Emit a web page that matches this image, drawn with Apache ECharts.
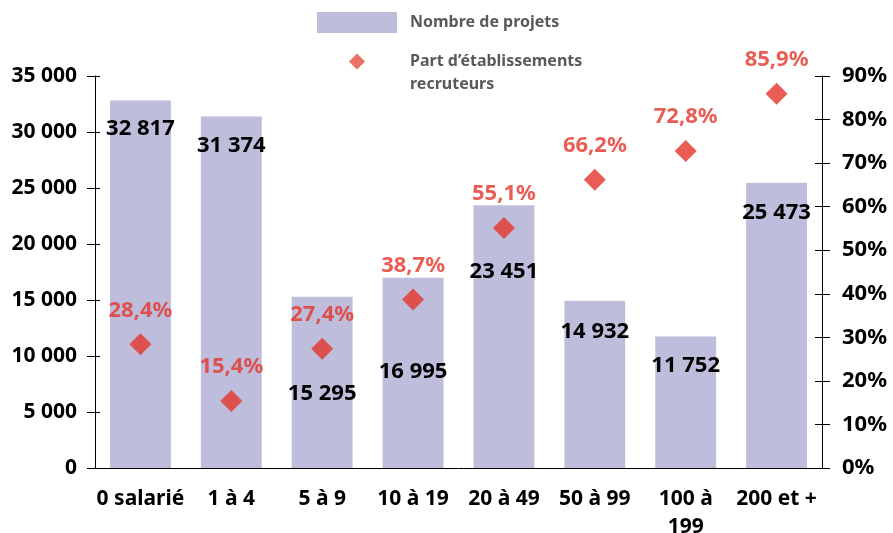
<!DOCTYPE html>
<html>
<head>
<meta charset="utf-8">
<script src="https://cdn.jsdelivr.net/npm/echarts@6/dist/echarts.min.js"></script>
<style>
  html, body { margin: 0; padding: 0; background: #fff; }
  #chart { width: 893px; height: 533px; }
</style>
</head>
<body>
<div id="chart"></div>
<script>
var categories = ['0 salarié', '1 à 4', '5 à 9', '10 à 19', '20 à 49', '50 à 99', '100 à 199', '200 et +'];
var projets = [32817, 31374, 15295, 16995, 23451, 14932, 11752, 25473];
var partRecruteurs = [28.4, 15.4, 27.4, 38.7, 55.1, 66.2, 72.8, 85.9];
// decalage vertical des etiquettes de barres (pour eviter les losanges)
var labelShift = [12, 13, 81, 78, 50, 15, 13, 14];

var font = 'Noto Sans';
var red = '#e3342a';

function fmtMille(v) {
  return String(v).replace(/\B(?=(\d{3})+(?!\d))/g, ' ');
}

var myChart = echarts.init(document.getElementById('chart'));

var barData = projets.map(function (v, i) {
  return { value: v, label: { offset: [0, labelShift[i]] } };
});

var option = {
  animation: false,
  textStyle: { fontFamily: font },
  legend: [{
    data: ['Nombre de projets'],
    left: 317,
    top: 12,
    padding: 0,
    itemWidth: 80,
    itemHeight: 21,
    icon: 'rect',
    textStyle: { color: '#595959', fontSize: 16, fontWeight: 'bold', padding: [0, 0, 0, 8] }
  }, {
    data: ['Part d’établissements recruteurs'],
    left: 349,
    top: 27,
    padding: 0,
    itemWidth: 16,
    itemHeight: 16,
    icon: 'diamond',
    itemStyle: { color: '#e84c3d' },
    formatter: function (n) { return '\n' + n.replace(' recruteurs', '\nrecruteurs'); },
    textStyle: { color: '#595959', fontSize: 16, fontWeight: 'bold', lineHeight: 23, padding: [0, 0, 0, 40] }
  }],
  grid: { left: 95, right: 71, top: 76, bottom: 65, containLabel: false, outerBoundsMode: 'none' },
  xAxis: {
    type: 'category',
    data: categories,
    axisLine: { lineStyle: { color: '#000', width: 1 } },
    axisTick: { show: false },
    axisLabel: {
      color: '#000', fontSize: 21, fontWeight: 'bold', margin: 17, lineHeight: 28,
      interval: 0,
      formatter: function (v) { return v === '100 à 199' ? '100 à\n199' : v; }
    }
  },
  yAxis: [{
    type: 'value', min: 0, max: 35000, interval: 5000, position: 'left',
    axisLine: { show: true, lineStyle: { color: '#000' } },
    axisTick: { show: true, length: 8, lineStyle: { color: '#000' } },
    splitLine: { show: false },
    axisLabel: { color: '#000', fontSize: 21, fontWeight: 'bold', margin: 18, formatter: fmtMille }
  }, {
    type: 'value', min: 0, max: 90, interval: 10, position: 'right',
    axisLine: { show: true, lineStyle: { color: '#000' } },
    axisTick: { show: true, length: 8, lineStyle: { color: '#000' } },
    splitLine: { show: false },
    axisLabel: { color: '#000', fontSize: 22, fontWeight: 'bold', margin: 20, formatter: '{value}%' }
  }, {
    type: 'value', min: 0, max: 35000, interval: 5000, position: 'left',
    axisLine: { show: false },
    axisTick: { show: true, inside: true, length: 5, lineStyle: { color: '#000' } },
    axisLabel: { show: false },
    splitLine: { show: false }
  }, {
    type: 'value', min: 0, max: 90, interval: 10, position: 'right',
    axisLine: { show: false },
    axisTick: { show: true, inside: true, length: 7, lineStyle: { color: '#000' } },
    axisLabel: { show: false },
    splitLine: { show: false }
  }],
  series: [{
    name: 'Nombre de projets',
    type: 'bar',
    yAxisIndex: 0,
    barWidth: '67%',
    itemStyle: { color: '#bebedc' },
    label: {
      show: true,
      position: 'insideTop',
      color: '#000',
      fontSize: 22,
      fontWeight: 'bold',
      formatter: function (p) { return fmtMille(p.value); }
    },
    data: barData
  }, {
    name: 'Part d’établissements recruteurs',
    type: 'scatter',
    yAxisIndex: 1,
    symbol: 'diamond',
    symbolSize: [22, 22],
    itemStyle: { color: red },
    label: {
      show: true,
      position: 'top',
      distance: 12,
      color: red,
      fontSize: 22,
      fontWeight: 'bold',
      formatter: function (p) { return String(p.value).replace('.', ',') + '%'; }
    },
    data: partRecruteurs
  }]
};

myChart.setOption(option);
</script>
</body>
</html>
